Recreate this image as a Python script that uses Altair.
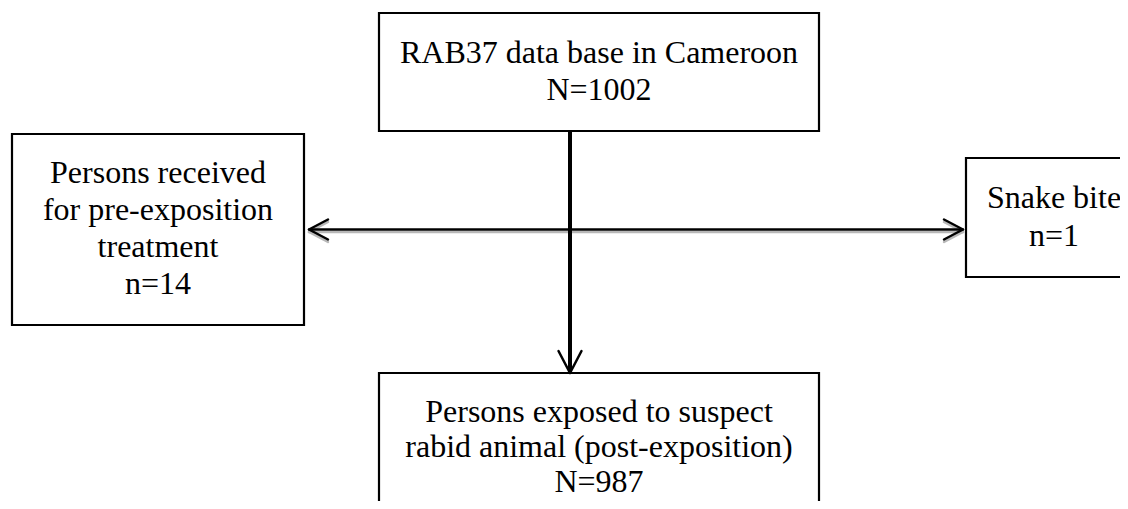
import altair as alt
import pandas as pd

# ---- content ----
box_ids = ["top", "left", "right", "bottom"]
box_lines = [
    ["RAB37 data base in Cameroon", "N=1002"],
    ["Persons received", "for pre-exposition", "treatment", "n=14"],
    ["Snake bite", "n=1"],
    ["Persons exposed to suspect", "rabid animal (post-exposition)", "N=987"],
]

# ---- layout (page pixel coordinates) ----
box_x1 = [379, 12, 966, 379]
box_x2 = [819, 304, 1142, 819]
box_y1 = [13, 134, 158, 373]
box_y2 = [131, 325, 277, 540]
first_baseline = [63, 183, 208, 422]
line_step = [37, 37, 38, 35]

# connectors: (x, y, x2, y2)
seg_x1 = [570, 309]
seg_y1 = [131, 229.5]
seg_x2 = [570, 963]
seg_y2 = [372, 229.5]

boxes = pd.DataFrame({"id": box_ids, "x": box_x1, "x2": box_x2, "y": box_y1, "y2": box_y2})

rows = []
for i, lines in enumerate(box_lines):
    cx = (box_x1[i] + box_x2[i]) / 2
    for j, t in enumerate(lines):
        rows.append({"text": t, "x": cx, "y": first_baseline[i] + j * line_step[i]})
labels = pd.DataFrame(rows)

segs = pd.DataFrame({"x": seg_x1, "y": seg_y1, "x2": seg_x2, "y2": seg_y2})

# arrowheads (open chevrons)
heads = []
tx, ty = 570, 373
heads += [dict(x=tx, y=ty, x2=tx - 11.5, y2=ty - 22), dict(x=tx, y=ty, x2=tx + 11.5, y2=ty - 22)]
tx, ty = 309, 229.5
heads += [dict(x=tx, y=ty, x2=tx + 19, y2=ty - 10), dict(x=tx, y=ty, x2=tx + 19, y2=ty + 10)]
tx, ty = 963, 229.5
heads += [dict(x=tx, y=ty, x2=tx - 19, y2=ty - 10), dict(x=tx, y=ty, x2=tx - 19, y2=ty + 10)]
heads = pd.DataFrame(heads)

# shadow for horizontal double arrow
hshadow = pd.concat([segs.iloc[[1]], heads.iloc[2:]], ignore_index=True).copy()
hshadow["y"] = hshadow["y"] + 2.5
hshadow["y2"] = hshadow["y2"] + 2.5

X = lambda f: alt.X(f, type="quantitative", scale=alt.Scale(domain=[8, 1120], nice=False, zero=False), axis=None)
Y = lambda f: alt.Y(f, type="quantitative", scale=alt.Scale(domain=[8, 501], nice=False, zero=False, reverse=True), axis=None)

rect_layer = alt.Chart(boxes).mark_rect(fill="white", stroke="black", strokeWidth=2.2, clip=True).encode(
    x=X("x"), x2="x2", y=Y("y"), y2="y2"
)

shadow_layer = alt.Chart(hshadow).mark_rule(color="#b8b8b8", strokeWidth=2.5, strokeCap="round").encode(
    x=X("x"), x2="x2", y=Y("y"), y2="y2"
)

vline = alt.Chart(segs.iloc[[0]]).mark_rule(color="black", strokeWidth=4).encode(
    x=X("x"), x2="x2", y=Y("y"), y2="y2"
)
hline = alt.Chart(segs.iloc[[1]]).mark_rule(color="black", strokeWidth=2.5).encode(
    x=X("x"), x2="x2", y=Y("y"), y2="y2"
)
head_layer = alt.Chart(heads).mark_rule(color="black", strokeWidth=2.5, strokeCap="round").encode(
    x=X("x"), x2="x2", y=Y("y"), y2="y2"
)

text_layer = alt.Chart(labels).mark_text(
    font="Liberation Serif", fontSize=32, color="black", align="center", baseline="alphabetic"
).encode(x=X("x"), y=Y("y"), text="text:N")

chart = alt.layer(rect_layer, shadow_layer, hline, vline, head_layer, text_layer).properties(
    width=1112, height=493, padding=0, autosize=alt.AutoSizeParams(type="none"), background="white"
).configure_view(stroke=None)

chart.save("out.html", embed_options={"renderer": "svg", "actions": False})
